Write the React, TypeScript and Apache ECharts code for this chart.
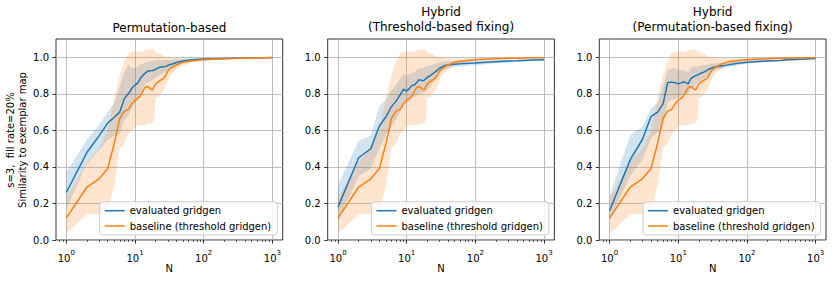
import React, { useEffect, useRef } from "react";
import * as echarts from "echarts";

// ---------- data ----------
const N = [
  1, 2, 3, 4, 5, 6, 7, 8, 9, 10,
  11, 12, 13, 14, 15, 16, 17, 18, 19, 20,
  22, 24, 26, 28, 30, 33, 36, 40, 45, 50,
  60, 70, 80, 100, 130, 160, 200, 300, 400, 500,
  700, 1000,
];

// baseline (threshold gridgen) – identical in all panels
const baselineMean = [
  0.12, 0.29, 0.335, 0.39, 0.53, 0.665, 0.705, 0.715, 0.745, 0.765,
  0.775, 0.79, 0.815, 0.835, 0.84, 0.835, 0.825, 0.822, 0.84, 0.855,
  0.867, 0.876, 0.885, 0.9, 0.925, 0.94, 0.948, 0.958, 0.966, 0.972,
  0.978, 0.981, 0.984, 0.987, 0.989, 0.991, 0.992, 0.994, 0.995, 0.996,
  0.997, 0.998,
];
const baselineLow = [
  0.035, 0.14, 0.145, 0.16, 0.3, 0.5, 0.53, 0.58, 0.6, 0.62,
  0.63, 0.63, 0.63, 0.63, 0.635, 0.64, 0.635, 0.64, 0.66, 0.78,
  0.78, 0.8, 0.82, 0.84, 0.87, 0.9, 0.915, 0.93, 0.945, 0.955,
  0.965, 0.97, 0.975, 0.98, 0.983, 0.986, 0.988, 0.99, 0.991, 0.992,
  0.994, 0.995,
];
const baselineHigh = [
  0.23, 0.43, 0.5, 0.6, 0.78, 0.9, 0.98, 1.02, 1.03, 1.03,
  1.035, 1.03, 1.03, 1.04, 1.04, 1.045, 1.04, 1.05, 1.035, 1.03,
  1.02, 1.02, 1.01, 1.005, 1.0, 0.998, 0.996, 0.995, 0.994, 0.993,
  0.993, 0.994, 0.995, 0.995, 0.996, 0.997, 0.997, 0.998, 0.999, 0.999,
  1.0, 1.0,
];

// panel 1: Permutation-based
const permMean = [
  0.26, 0.48, 0.57, 0.64, 0.672, 0.7, 0.775, 0.8, 0.83, 0.848,
  0.86, 0.885, 0.9, 0.912, 0.922, 0.925, 0.926, 0.928, 0.93, 0.935,
  0.943, 0.947, 0.948, 0.95, 0.955, 0.96, 0.965, 0.971, 0.976, 0.98,
  0.984, 0.986, 0.988, 0.99, 0.991, 0.992, 0.993, 0.995, 0.996, 0.997,
  0.998, 0.999,
];
const permLow = [
  0.17, 0.42, 0.49, 0.55, 0.57, 0.58, 0.66, 0.68, 0.72, 0.75,
  0.77, 0.8, 0.83, 0.85, 0.86, 0.865, 0.87, 0.875, 0.88, 0.885,
  0.9, 0.91, 0.915, 0.92, 0.93, 0.94, 0.945, 0.955, 0.962, 0.968,
  0.975, 0.978, 0.981, 0.984, 0.986, 0.988, 0.99, 0.992, 0.993, 0.994,
  0.996, 0.997,
];
const permHigh = [
  0.37, 0.55, 0.63, 0.7, 0.75, 0.84, 0.92, 0.96, 0.94, 0.94,
  0.95, 0.96, 0.965, 0.97, 0.975, 0.978, 0.978, 0.98, 0.98, 0.982,
  0.985, 0.985, 0.985, 0.985, 0.985, 0.985, 0.988, 0.99, 0.99, 0.992,
  0.993, 0.994, 0.995, 0.996, 0.996, 0.997, 0.997, 0.998, 0.999, 0.999,
  1.0, 1.0,
];

// panel 2: Hybrid (Threshold-based fixing)
const thrMean = [
  0.18, 0.45, 0.5, 0.624, 0.675, 0.73, 0.76, 0.794, 0.825, 0.815,
  0.83, 0.845, 0.85, 0.862, 0.875, 0.875, 0.872, 0.875, 0.882, 0.89,
  0.9, 0.91, 0.92, 0.93, 0.94, 0.948, 0.955, 0.958, 0.96, 0.962,
  0.964, 0.966, 0.967, 0.969, 0.972, 0.974, 0.976, 0.979, 0.981, 0.983,
  0.985, 0.987,
];
const thrLow = [
  0.1, 0.35, 0.39, 0.5, 0.575, 0.62, 0.66, 0.7, 0.74, 0.75,
  0.76, 0.78, 0.78, 0.79, 0.8, 0.8, 0.805, 0.81, 0.815, 0.82,
  0.84, 0.86, 0.875, 0.89, 0.91, 0.925, 0.935, 0.94, 0.945, 0.948,
  0.95, 0.952, 0.954, 0.957, 0.961, 0.964, 0.967, 0.971, 0.974, 0.977,
  0.979, 0.982,
];
const thrHigh = [
  0.3, 0.545, 0.57, 0.73, 0.77, 0.82, 0.85, 0.88, 0.91, 0.9,
  0.91, 0.915, 0.92, 0.93, 0.94, 0.94, 0.94, 0.945, 0.948, 0.95,
  0.955, 0.96, 0.965, 0.97, 0.972, 0.975, 0.977, 0.978, 0.978, 0.978,
  0.978, 0.979, 0.98, 0.981, 0.983, 0.984, 0.985, 0.987, 0.988, 0.989,
  0.991, 0.992,
];

// panel 3: Hybrid (Permutation-based fixing)
const hybMean = [
  0.16, 0.44, 0.55, 0.675, 0.7, 0.745, 0.862, 0.864, 0.86, 0.855,
  0.86, 0.866, 0.86, 0.855, 0.88, 0.89, 0.895, 0.9, 0.903, 0.908,
  0.915, 0.92, 0.928, 0.935, 0.94, 0.945, 0.949, 0.951, 0.953, 0.957,
  0.962, 0.966, 0.969, 0.973, 0.976, 0.978, 0.98, 0.983, 0.986, 0.988,
  0.99, 0.993,
];
const hybLow = [
  0.11, 0.35, 0.44, 0.557, 0.585, 0.62, 0.75, 0.77, 0.77, 0.78,
  0.79, 0.8, 0.8, 0.8, 0.82, 0.83, 0.84, 0.85, 0.86, 0.865,
  0.875, 0.885, 0.895, 0.905, 0.915, 0.925, 0.93, 0.935, 0.94, 0.945,
  0.951, 0.955, 0.959, 0.964, 0.968, 0.971, 0.974, 0.978, 0.981, 0.983,
  0.986, 0.989,
];
const hybHigh = [
  0.24, 0.575, 0.62, 0.72, 0.75, 0.84, 0.93, 0.94, 0.94, 0.93,
  0.93, 0.93, 0.925, 0.92, 0.94, 0.945, 0.95, 0.95, 0.95, 0.952,
  0.955, 0.958, 0.96, 0.963, 0.965, 0.966, 0.967, 0.968, 0.968, 0.97,
  0.973, 0.977, 0.979, 0.982, 0.984, 0.985, 0.986, 0.988, 0.991, 0.993,
  0.994, 0.996,
];

const panelTitles = [
  "Permutation-based",
  "Hybrid\n(Threshold-based fixing)",
  "Hybrid\n(Permutation-based fixing)",
];
const seriesNames = ["evaluated gridgen", "baseline (threshold gridgen)"];
const xTickExponents = [0, 1, 2, 3];
const yTicks = [0, 0.2, 0.4, 0.6, 0.8, 1.0];
const yLabel = "s=3,  fill rate=20%\nSimilarity to exemplar map";
const xLabel = "N";

// ---------- layout / style ----------
const FONT = "DejaVu Sans";
const BLUE = "#1f77b4";
const ORANGE = "#ff7f0e";
const BLUE_BAND = "rgba(31,119,180,0.2)";
const ORANGE_BAND = "rgba(255,127,14,0.2)";
const GRID_LEFTS = [56, 327.7, 599.3];
const GRID_TOP = 39;
const GRID_W = 226.7;
const GRID_H = 201;
const X_MIN = -0.15;
const X_MAX = 3.15;

const minorTickPositions: number[] = [];
[-1, 0, 1, 2].forEach((d) => {
  for (let m = 2; m <= 9; m++) {
    const v = Math.log10(m) + d;
    if (v > X_MIN && v < X_MAX) minorTickPositions.push(v);
  }
});

const panels = [
  { title: panelTitles[0], mean: permMean, low: permLow, high: permHigh },
  { title: panelTitles[1], mean: thrMean, low: thrLow, high: thrHigh },
  { title: panelTitles[2], mean: hybMean, low: hybLow, high: hybHigh },
];

function bandSeries(name: string, xi: number, yi: number, low: number[], high: number[], color: string) {
  const data = N.map((n, i) => [Math.log10(n), low[i], high[i]]);
  return {
    type: "custom",
    name,
    xAxisIndex: xi,
    yAxisIndex: yi,
    silent: true,
    z: 1,
    encode: { x: 0, y: [1, 2] },
    data,
    renderItem: (params: any, api: any) => {
      if (params.dataIndex !== 0) return null;
      const top = data.map((d) => api.coord([d[0], d[2]]));
      const bottom = data.map((d) => api.coord([d[0], d[1]])).reverse();
      return {
        type: "polygon",
        shape: { points: top.concat(bottom) },
        style: { fill: color, stroke: "none" },
      };
    },
  };
}

function lineSeries(name: string, xi: number, yi: number, values: number[], color: string, z: number) {
  return {
    type: "line",
    name,
    xAxisIndex: xi,
    yAxisIndex: yi,
    data: N.map((n, i) => [Math.log10(n), values[i]]),
    symbol: "none",
    showSymbol: false,
    lineStyle: { width: 1.5, color },
    itemStyle: { color },
    z,
  };
}

export default function App() {
  const ref = useRef<HTMLDivElement>(null);

  useEffect(() => {
    if (!ref.current) return;
    const chart = echarts.init(ref.current, null, { renderer: "svg" });

    const grid: any[] = [];
    const xAxis: any[] = [];
    const yAxis: any[] = [];
    const series: any[] = [];
    const legend: any[] = [];
    const graphic: any[] = [];

    panels.forEach((p, g) => {
      const left = GRID_LEFTS[g];
      grid.push({
        left,
        top: GRID_TOP,
        width: GRID_W,
        height: GRID_H,
        show: true,
        borderColor: "#000",
        borderWidth: 0.8,
        backgroundColor: "transparent",
        containLabel: false,
      });
      // major x axis
      xAxis.push({
        type: "value",
        gridIndex: g,
        min: X_MIN,
        max: X_MAX,
        splitNumber: 3,
        position: "bottom",
        axisLine: { show: false, onZero: false },
        axisTick: {
          show: true,
          length: 3.5,
          lineStyle: { color: "#000", width: 0.8 },
          customValues: xTickExponents,
        },
        axisLabel: {
          show: true,
          customValues: xTickExponents,
          margin: 9,
          formatter: (v: number) => `{b|10}{s|${Math.round(v)}}`,
          rich: {
            b: { fontSize: 10, fontFamily: FONT, color: "#000", lineHeight: 14, verticalAlign: "bottom" },
            s: { fontSize: 7, fontFamily: FONT, color: "#000", lineHeight: 6, verticalAlign: "top" },
          },
        },
        splitLine: { show: true, lineStyle: { color: "#b0b0b0", width: 0.8 } },
      });
      // minor x ticks
      xAxis.push({
        type: "value",
        gridIndex: g,
        min: X_MIN,
        max: X_MAX,
        position: "bottom",
        offset: 0,
        axisLine: { show: false, onZero: false },
        axisTick: {
          show: true,
          length: 2,
          lineStyle: { color: "#000", width: 0.6 },
          customValues: minorTickPositions,
        },
        axisLabel: { show: false },
        splitLine: { show: false },
      });
      yAxis.push({
        type: "value",
        gridIndex: g,
        min: 0,
        max: 1.1,
        interval: 0.2,
        axisLine: { show: false, onZero: false },
        axisTick: {
          show: true,
          length: 3.5,
          lineStyle: { color: "#000", width: 0.8 },
          customValues: yTicks,
        },
        axisLabel: {
          customValues: yTicks,
          margin: 7,
          fontSize: 10,
          fontFamily: FONT,
          color: "#000",
          formatter: (v: number) => v.toFixed(1),
        },
        splitLine: { show: true, lineStyle: { color: "#b0b0b0", width: 0.8 } },
      });

      const xi = 2 * g;
      series.push(bandSeries("evaluated band " + g, xi, g, p.low, p.high, BLUE_BAND));
      series.push(bandSeries("baseline band " + g, xi, g, baselineLow, baselineHigh, ORANGE_BAND));
      series.push(lineSeries(seriesNames[0], xi, g, p.mean, BLUE, 3));
      series.push(lineSeries(seriesNames[1], xi, g, baselineMean, ORANGE, 4));

      legend.push({
        data: seriesNames,
        orient: "vertical",
        left: left + GRID_W - 5 - 178,
        top: 201.7,
        icon: "rect",
        itemWidth: 20,
        itemHeight: 1.5,
        itemGap: 3.3,
        padding: [3, 6, 3, 5],
        backgroundColor: "rgba(255,255,255,0.8)",
        borderColor: "#cccccc",
        borderWidth: 1,
        borderRadius: 3,
        selectedMode: false,
        itemStyle: { borderWidth: 0 },
        textStyle: { fontSize: 10, fontFamily: FONT, color: "#000", lineHeight: 12 },
      });

      graphic.push({
        type: "text",
        x: left + GRID_W / 2,
        y: g === 0 ? 27.5 : 19.85,
        style: {
          text: p.title,
          fontSize: 12,
          fontFamily: FONT,
          fill: "#000",
          textAlign: "center",
          textVerticalAlign: "middle",
          lineHeight: 15.3,
        },
      });
      graphic.push({
        type: "text",
        x: left + GRID_W / 2,
        y: 268.5,
        style: {
          text: xLabel,
          fontSize: 10,
          fontFamily: FONT,
          fill: "#000",
          textAlign: "center",
          textVerticalAlign: "middle",
        },
      });
    });

    graphic.push({
      type: "text",
      x: 16.5,
      y: 140,
      rotation: Math.PI / 2,
      style: {
        text: yLabel,
        fontSize: 10,
        fontFamily: FONT,
        fill: "#000",
        textAlign: "center",
        textVerticalAlign: "middle",
        lineHeight: 12,
      },
    });

    chart.setOption({
      animation: false,
      backgroundColor: "#fff",
      textStyle: { fontFamily: FONT },
      grid,
      xAxis,
      yAxis,
      series,
      legend,
      graphic,
    });

    return () => chart.dispose();
  }, []);

  return (
    <div
      ref={ref}
      style={{ position: "fixed", left: 0, top: 0, width: 832, height: 282, background: "#fff" }}
    />
  );
}
